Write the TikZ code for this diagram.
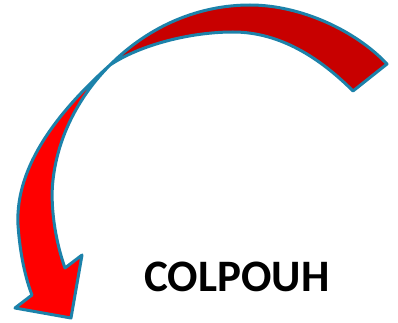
\documentclass[tikz,border=0pt]{standalone}
\usepackage{fontspec}
\setmainfont{Carlito}
\usepackage{tikz}
\usetikzlibrary{positioning}
\definecolor{arrowback}{RGB}{200,0,0}
\definecolor{arrowfront}{RGB}{255,0,0}
\definecolor{rimblue}{RGB}{28,130,170}
\tikzset{
    ribbon/.style={draw=rimblue, line width=3pt, line join=round, fill=#1},
    label/.style={font=\fontsize{45}{50}\selectfont\bfseries, text=black, inner sep=0pt},
}
\begin{document}
\begin{tikzpicture}[x=1pt, y=-1pt]
    \useasboundingbox (0,0) rectangle (398,323);

    % back half of the arrow (dark)
    \path[ribbon=arrowback] (110,65) .. controls (150,25) and (200,5) .. (250,5)
        .. controls (300,5) and (355,30) .. (387,64)
        -- (353,91)
        .. controls (320,58) and (280,32) .. (233,32)
        .. controls (190,32) and (140,45) .. (110,65)
        -- cycle;

    % front half with the head
    \path[ribbon=arrowfront] (110,65) .. controls (60,110) and (15,165) .. (18,225)
        .. controls (20,255) and (26,280) .. (32,295)
        -- (15,308) -- (71,318) -- (82,255) -- (65,268)
        .. controls (55,240) and (50,205) .. (53,180)
        .. controls (58,135) and (80,95) .. (110,65)
        -- cycle;

    \node[label] (title) at (237,277) {COLPOUH};
\end{tikzpicture}
\end{document}
